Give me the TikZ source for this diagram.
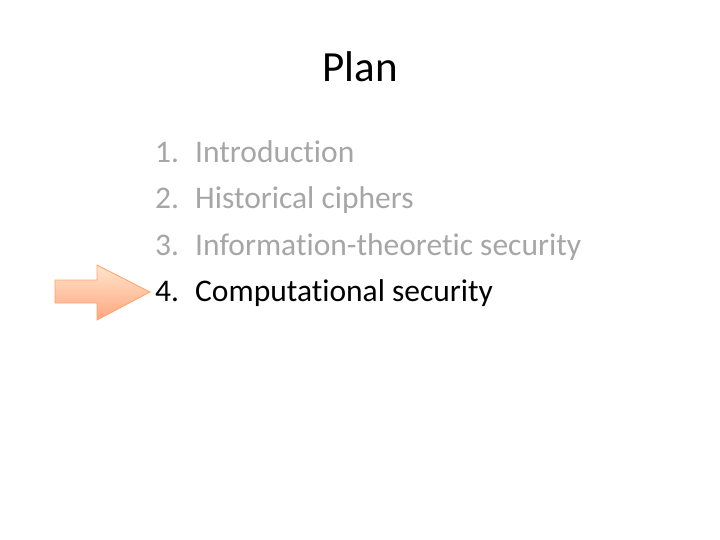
\documentclass[tikz,border=0pt]{standalone}
\usepackage{fontspec}
\setmainfont{Carlito}[RawFeature={-liga;-clig}]
\begin{document}
\begin{tikzpicture}[x=1pt,y=-1pt,
  item/.style={anchor=base west,inner sep=0pt,font=\fontsize{31.5}{34}\selectfont},
  dim/.style={text=black!35}]
\useasboundingbox (0,0) rectangle (720,540);
\node[anchor=base,inner sep=0pt,font=\fontsize{43}{46}\selectfont] (title) at (360,82) {Plan};
\node[item,dim] (n1) at (155,163) {1.};
\node[item,dim] (t1) at (195,163) {Introduction};
\node[item,dim] (n2) at (155,209) {2.};
\node[item,dim] (t2) at (195,209) {Historical ciphers};
\node[item,dim] (n3) at (155,255) {3.};
\node[item,dim] (t3) at (195,255) {Information-theoretic security};
\node[item] (n4) at (155,301) {4.};
\node[item] (t4) at (195,301) {Computational security};
\shade[top color=orange!20!white,bottom color=orange!60!red!50,draw=orange!80!red!60,line width=0.8pt]
  (55,280) -- (97,280) -- (97,265) -- (150,292) -- (97,320) -- (97,303) -- (55,303) -- cycle;
\end{tikzpicture}
\end{document}
